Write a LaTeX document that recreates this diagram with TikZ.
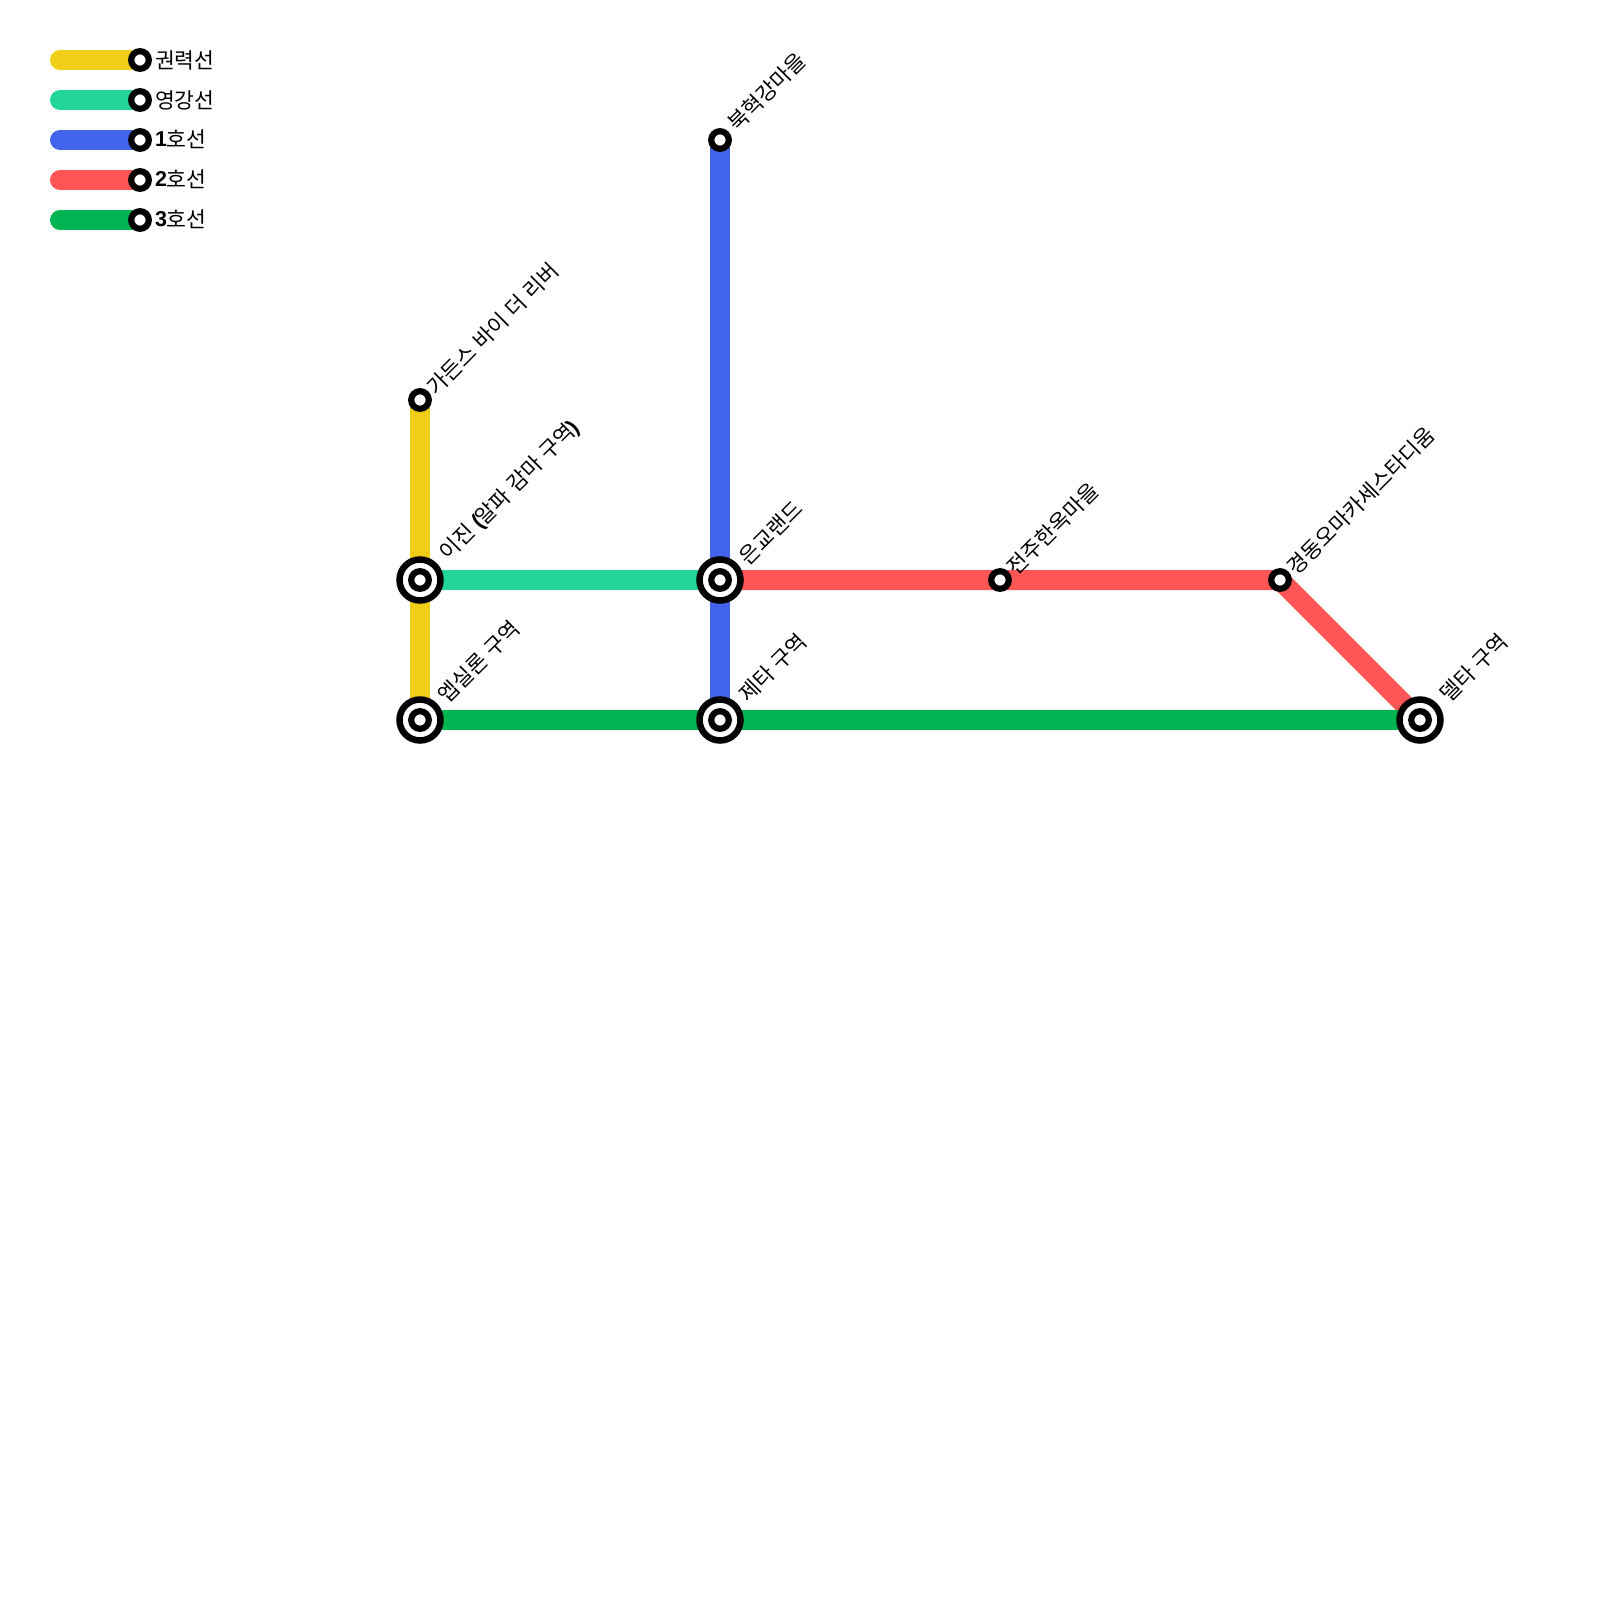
\documentclass[tikz,border=0pt]{standalone}
\usepackage{fontspec}
\setmainfont[WordSpace=1.2]{Noto Sans CJK KR}
\newfontfamily\boldlat{Liberation Sans Bold}
\newcommand{\lat}[1]{{\boldlat #1}}
\newcommand{\dig}[1]{\raisebox{1pt}{\boldlat #1}}
\definecolor{cyel}{HTML}{F0CE15}
\definecolor{cmint}{HTML}{20D49A}
\definecolor{cblue}{HTML}{4263EB}
\definecolor{cred}{HTML}{FF5555}
\definecolor{cgrn}{HTML}{00B451}
\tikzset{
  x=1pt,y=-1pt,
  metro/.style={line width=20pt,line cap=butt},
  legbar/.style={line width=20pt,line cap=round},
  smallst/.style={circle,draw=black,fill=white,line width=6.2pt,minimum size=17.6pt,inner sep=0pt,outer sep=0pt},
  bigst/.style={circle,draw=black,fill=white,line width=6.5pt,minimum size=41pt,inner sep=0pt,outer sep=0pt},
  stlabel/.style={rotate=45,anchor=west,inner sep=0pt,outer sep=0pt,font=\fontsize{21.5pt}{24pt}\selectfont,text=black},
  leglabel/.style={anchor=west,inner sep=0pt,outer sep=0pt,font=\fontsize{21.5pt}{24pt}\selectfont,text=black},
}
\begin{document}
\begin{tikzpicture}
\useasboundingbox (0,0) rectangle (1600,1600);
% station anchors
\coordinate (gardens) at (420,400);
\coordinate (ijin) at (420,580);
\coordinate (eps) at (420,720);
\coordinate (north) at (720,140);
\coordinate (eun) at (720,580);
\coordinate (zeta) at (720,720);
\coordinate (jeonju) at (1000,580);
\coordinate (gyeong) at (1280,580);
\coordinate (delta) at (1420,720);
% lines
\draw[metro,cyel] (gardens) -- (ijin) -- (eps);
\draw[metro,cblue] (north) -- (eun) -- (zeta);
\draw[metro,cmint] (ijin) -- (eun);
\draw[metro,cred,line join=miter] (eun) -- (jeonju) -- (gyeong) -- (delta);
\draw[metro,cgrn] (eps) -- (zeta) -- (delta);
% legend
\coordinate (lega) at (60,60);
\coordinate (legb) at (60,100);
\coordinate (legc) at (60,140);
\coordinate (legd) at (60,180);
\coordinate (lege) at (60,220);
\coordinate (lega2) at (140,60);
\coordinate (legb2) at (140,100);
\coordinate (legc2) at (140,140);
\coordinate (legd2) at (140,180);
\coordinate (lege2) at (140,220);
\draw[legbar,cyel] (lega) -- (lega2);
\draw[legbar,cmint] (legb) -- (legb2);
\draw[legbar,cblue] (legc) -- (legc2);
\draw[legbar,cred] (legd) -- (legd2);
\draw[legbar,cgrn] (lege) -- (lege2);
\foreach \n in {a,b,c,d,e}{
  \node[smallst] (legtop\n) at (leg\n2) {};
}
\node[leglabel] (la) at (155,60) {권력선};
\node[leglabel] (lb) at (155,100) {영강선};
\node[leglabel] (lc) at (155,139.5) {\dig{1}호선};
\node[leglabel] (ld) at (155,179.5) {\dig{2}호선};
\node[leglabel] (le) at (155,219.5) {\dig{3}호선};
% stations
\node[smallst] (sgardens) at (gardens) {};
\node[smallst] (snorth) at (north) {};
\node[smallst] (sjeonju) at (jeonju) {};
\node[smallst] (sgyeong) at (gyeong) {};
\foreach \p in {ijin,eps,eun,zeta,delta}{
  \node[bigst] (b\p) at (\p) {};
  \node[smallst] (d\p) at (\p) {};
}
% labels
\node[stlabel] (t1) at (431,391) {가든스 바이 더 리버};
\node[stlabel] (t2) at (444,557) {이진 \lat{(}\kern-2pt알파 감마 구역\kern-1pt\lat{)}};
\node[stlabel] (t3) at (442,699) {엡실론 구역};
\node[stlabel] (t4) at (732,127) {북혁강마을};
\node[stlabel] (t5) at (742.5,560.5) {은교랜드};
\node[stlabel] (t6) at (743,698) {제타 구역};
\node[stlabel] (t7) at (1011,571) {전주한옥마을};
\node[stlabel] (t8) at (1291,571) {경동오마카세스타디움};
\node[stlabel] (t9) at (1444,698) {델타 구역};
\end{tikzpicture}
\end{document}
